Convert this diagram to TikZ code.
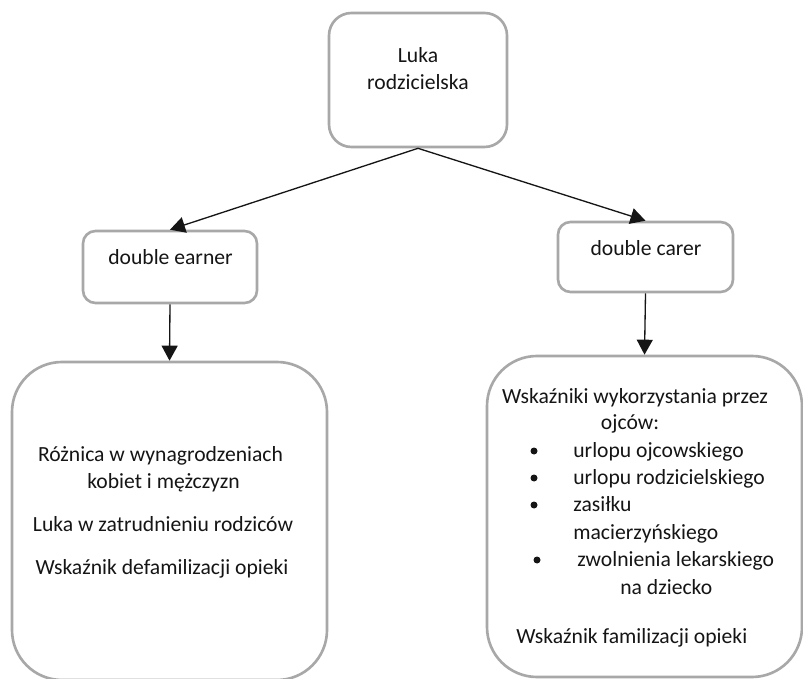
\documentclass[tikz,border=0pt]{standalone}
\usepackage{fontspec}
\setmainfont{Carlito}
\usetikzlibrary{arrows.meta,positioning}
\definecolor{boxgray}{HTML}{A8A8A8}
\definecolor{ink}{HTML}{151515}
\tikzset{>={Triangle[length=.3cm,width=.32cm]},
  every node/.style={font=\fontsize{12.3}{15.5}\selectfont,text=ink},
  card/.style={draw=boxgray,line width=1.5pt,fill=white,inner sep=0pt},
  link/.style={->,draw=ink,line width=.75pt},
  txt/.style={anchor=base,inner sep=0pt},
  item/.style={anchor=base west,inner sep=0pt},
  dot/.style={circle,fill=ink,inner sep=0pt,minimum size=.14cm}}
\begin{document}
\begin{tikzpicture}
\path[use as bounding box,fill=white] (0,0) rectangle (16.06,-13.58);
% boxes
\node[card,rounded corners=.45cm,minimum width=3.56cm,minimum height=2.68cm] (root) at (8.36,-1.60) {};
\node[card,rounded corners=.25cm,minimum width=3.48cm,minimum height=1.44cm] (earner) at (3.40,-5.34) {};
\node[card,rounded corners=.25cm,minimum width=3.50cm,minimum height=1.40cm] (carer) at (12.91,-5.14) {};
\node[card,rounded corners=1cm,minimum width=6.30cm,minimum height=6.36cm] (paygap) at (3.39,-10.42) {};
\node[card,rounded corners=1cm,minimum width=6.30cm,minimum height=6.42cm] (fathers) at (12.89,-10.33) {};
% connectors
\draw[link] (root.south)--(earner.north);
\draw[link] (root.south)--(carer.north);
\draw[link] (earner.south)--(paygap.north);
\draw[link] (carer.south)--(fathers.north);
% labels
\node[txt] (rootA) at (8.36,-1.26) {Luka};
\node[txt] (rootB) at (8.36,-1.80) {rodzicielska};
\node[txt] (earnerlbl) at (3.41,-5.30) {double earner};
\node[txt] (carerlbl) at (12.92,-5.12) {double carer};
\node[txt] (gapA) at (3.21,-9.22) {Różnica w wynagrodzeniach};
\node[txt] (gapB) at (3.27,-9.76) {kobiet i mężczyzn};
\node[txt] (gapC) at (3.26,-10.62) {Luka w zatrudnieniu rodziców};
\node[txt] (gapD) at (3.24,-11.48) {Wskaźnik defamilizacji opieki};
\node[txt] (famA) at (12.70,-8.08) {Wskaźniki wykorzystania przez};
\node[txt] (famB) at (12.60,-8.58) {ojców:};
\foreach \k/\yy/\t in {1/-9.14/urlopu ojcowskiego,2/-9.68/urlopu rodzicielskiego,3/-10.22/zasiłku}{
  \node[dot] (dot\k) at (10.68,\yy+.12) {};
  \node[item] (item\k) at (11.46,\yy) {\t};}
\node[item] (item3b) at (11.46,-10.78) {macierzyńskiego};
\node[dot] (dot4) at (10.74,-11.20) {};
\node[item] (item4) at (11.54,-11.32) {zwolnienia lekarskiego};
\node[item] (item4b) at (12.40,-11.88) {na dziecko};
\node[item] (famC) at (10.32,-12.86) {Wskaźnik familizacji opieki};
\end{tikzpicture}
\end{document}
